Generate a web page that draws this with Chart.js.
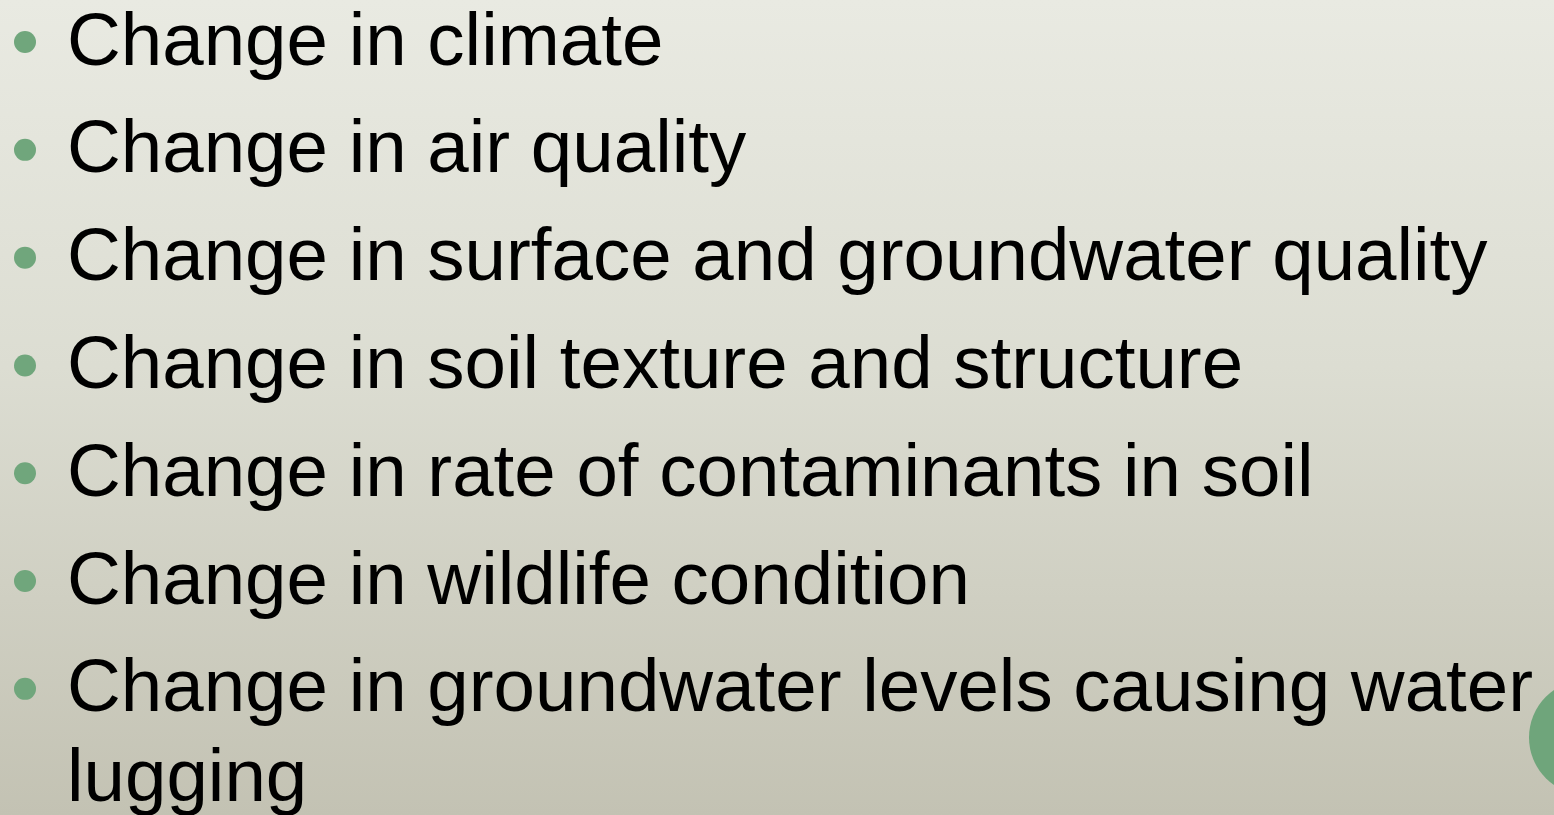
<!DOCTYPE html>
<html>
<head>
<meta charset="utf-8">
<script src="https://cdn.jsdelivr.net/npm/chart.js@4"></script>
<style>
  html, body { margin: 0; padding: 0; width: 1554px; height: 815px; overflow: hidden; }
  body { background: linear-gradient(to bottom, #e9eae2 0%, #dcddd2 45%, #c3c2b3 100%); position: relative; }
  #wrap { position: absolute; left: 0; top: 0; width: 1554px; height: 815px; }
  .decor { position: absolute; left: 1529px; top: 680px; width: 115px; height: 115px; border-radius: 50%; background: #6fa57b; }
</style>
</head>
<body>
<div class="decor"></div>
<div id="wrap"><canvas id="slideChart"></canvas></div>
<script>
// Bullet items (one array entry per bullet, wrapped lines as sub-arrays)
const items = [
  ["Change in climate"],
  ["Change in air quality"],
  ["Change in surface and groundwater quality"],
  ["Change in soil texture and structure"],
  ["Change in rate of contaminants in soil"],
  ["Change in wildlife condition"],
  ["Change in groundwater levels causing water", "lugging"],
];
const bulletIndex = items.map((_, i) => i);

const bulletColor = "#70a67c";
const textFont = '74.5px "Liberation Sans", Arial, sans-serif';

// draws the bullet text next to each point
const bulletText = {
  id: "bulletText",
  afterDatasetsDraw(chart) {
    const ctx = chart.ctx;
    const xs = chart.scales.x;
    const ys = chart.scales.y;
    const lineStep = ys.getPixelForValue(0.83) - ys.getPixelForValue(0);
    ctx.save();
    ctx.font = textFont;
    ctx.fillStyle = "#000";
    ctx.textBaseline = "alphabetic";
    items.forEach((lines, i) => {
      const px = xs.getPixelForValue(0) + 42;
      const py = ys.getPixelForValue(bulletIndex[i]) + 22.5;
      lines.forEach((t, j) => ctx.fillText(t, px, py + j * lineStep));
    });
    ctx.restore();
  },
};

const ctx = document.getElementById("slideChart").getContext("2d");
const slideChart = new Chart(ctx, {
  type: "scatter",
  data: {
    datasets: [
      {
        label: "bullets",
        data: bulletIndex.map((i) => ({ x: 0, y: i })),
        backgroundColor: bulletColor,
        borderWidth: 0,
        pointRadius: 11,
        pointHoverRadius: 11,
      },
    ],
  },
  options: {
    responsive: true,
    maintainAspectRatio: false,
    animation: false,
    layout: { padding: 0, autoPadding: false },
    plugins: { legend: { display: false }, tooltip: { enabled: false } },
    scales: {
      x: { type: "linear", display: false, min: -25, max: 1529 },
      y: { type: "linear", display: false, reverse: true, min: -0.39, max: 7.17 },
    },
  },
  plugins: [bulletText],
});
</script>
</body>
</html>
